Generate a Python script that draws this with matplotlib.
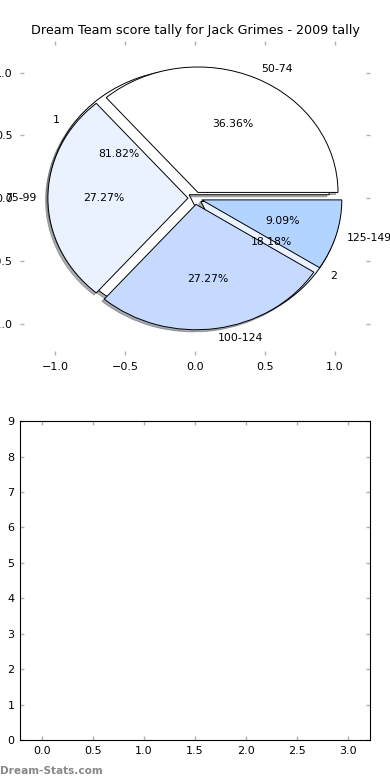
import matplotlib
matplotlib.use("Agg")
import matplotlib.pyplot as plt

# Score ranges and how often each came up
score_labels = ["50-74", "75-99", "100-124", "125-149"]
score_counts = [4, 3, 3, 1]
score_colors = ["#ffffff", "#eaf1ff", "#c6d9ff", "#b3d4ff"]

# Second tally drawn underneath
tally_labels = ["1", "2"]
tally_counts = [9, 2]
tally_colors = ["#ffffff", "#eaf1ff"]

fig = plt.figure(figsize=(3.9, 7.8), dpi=100)

shadow_opts = {"ox": -0.012, "oy": -0.012, "shade": 0.6}

ax = fig.add_axes([0.051, 0.545, 0.898, 0.402])
ax.pie(tally_counts, labels=tally_labels, colors=tally_colors, autopct="%1.2f%%",
       explode=[0.05] * len(tally_counts), shadow=shadow_opts,
       wedgeprops={"edgecolor": "black", "linewidth": 0.7},
       textprops={"fontsize": 7.8}, frame=True)
ax.pie(score_counts, labels=score_labels, colors=score_colors, autopct="%1.2f%%",
       explode=[0.05] * len(score_counts), shadow=shadow_opts, labeldistance=1.08,
       wedgeprops={"edgecolor": "black", "linewidth": 0.7},
       textprops={"fontsize": 7.8}, frame=True)
ax.set_aspect("auto")
ax.set_xlim(-1.25, 1.25)
ax.set_ylim(-1.25, 1.25)
ax.set_xticks([-1.0, -0.5, 0.0, 0.5, 1.0])
ax.set_yticks([-1.0, -0.5, 0.0, 0.5, 1.0])
for s in ax.spines.values():
    s.set_visible(False)
ax.tick_params(direction="in", length=3, width=1, color="#b0b0b0", labelsize=8,
               top=True, right=True, pad=5)
ax.set_title("Dream Team score tally for Jack Grimes - 2009 tally", fontsize=9.2, pad=5)

# empty lower panel
ax2 = fig.add_axes([0.051, 0.0513, 0.898, 0.4087])
ax2.set_xlim(-0.22, 3.22)
ax2.set_ylim(0, 9)
ax2.set_xticks([0.0, 0.5, 1.0, 1.5, 2.0, 2.5, 3.0])
ax2.set_yticks(range(10))
ax2.tick_params(direction="in", length=3, width=1, color="#b0b0b0", labelsize=8,
                top=True, right=True, pad=4)

fig.text(0.0, 0.008, "Dream-Stats.com", fontsize=7.6, color="#888888", fontweight="bold")

fig.savefig("out.png", dpi=100)
